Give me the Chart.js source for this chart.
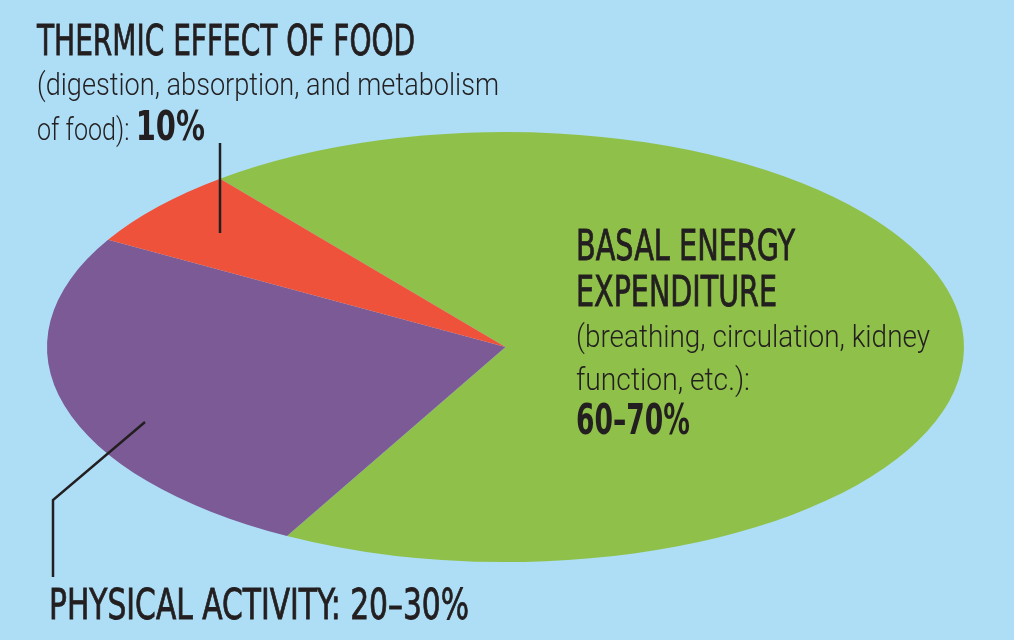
<!DOCTYPE html>
<html>
<head>
<meta charset="utf-8">
<script src="https://cdn.jsdelivr.net/npm/chart.js@4/dist/chart.umd.min.js"></script>
<style>
  html, body { margin: 0; padding: 0; background: #ADDEF6; }
  #wrap { position: relative; width: 1014px; height: 640px; overflow: hidden; background: #ADDEF6; }
  #wrap canvas { position: absolute; left: 0; top: 0; }
  #labels { position: absolute; left: 0; top: 0; width: 1014px; height: 640px; pointer-events: none; }
  #labels text { fill: #231F20; font-family: "Liberation Sans Narrow", "DejaVu Sans Condensed", "Liberation Sans", sans-serif; }
  #labels text.head { font-size: 42px; font-weight: 400; stroke: #231F20; stroke-width: 0.8px; }
  #labels text.body { font-family: Roboto, "DejaVu Sans Condensed", sans-serif; font-size: 32px; font-weight: 300; }
  #labels tspan.bold, #labels text.bold { font-family: "DejaVu Sans Condensed", "Liberation Sans Narrow", sans-serif; font-weight: 700; stroke: none; }
</style>
</head>
<body>
<div id="wrap">
  <canvas id="c" width="1014" height="640"></canvas>
  <svg id="labels" width="1014" height="640" xmlns="http://www.w3.org/2000/svg">
    <text class="head" x="37" y="55" textLength="378" lengthAdjust="spacingAndGlyphs">THERMIC EFFECT OF FOOD</text>
    <text class="body" x="37" y="95" textLength="462" lengthAdjust="spacingAndGlyphs">(digestion, absorption, and metabolism</text>
    <text class="body" x="37" y="140" textLength="168" lengthAdjust="spacingAndGlyphs">of food): <tspan class="bold" style="font-size:41px">10%</tspan></text>

    <text class="head" x="576" y="260" textLength="219" lengthAdjust="spacingAndGlyphs">BASAL ENERGY</text>
    <text class="head" x="576" y="306" textLength="201" lengthAdjust="spacingAndGlyphs">EXPENDITURE</text>
    <text class="body" x="576" y="347" textLength="354" lengthAdjust="spacingAndGlyphs">(breathing, circulation, kidney</text>
    <text class="body" x="576" y="390" textLength="174" lengthAdjust="spacingAndGlyphs">function, etc.):</text>
    <text class="head bold" x="576" y="434" textLength="114" lengthAdjust="spacingAndGlyphs">60–70%</text>

    <text class="head" x="49" y="619" textLength="420" lengthAdjust="spacingAndGlyphs">PHYSICAL ACTIVITY: 20–30%</text>
  </svg>
</div>
<script>
// ---- data ----
const categories = ['Basal energy expenditure', 'Physical activity', 'Thermic effect of food'];
const shareValues = [68.6, 25.4, 6.0];
const sliceColors = ['#8FC14A', '#7B5A96', '#EE523A'];

// ---- layout / style constants ----
const ELLIPSE_RX = 458.5;
const ELLIPSE_RY = 215;
const INK = '#231F20';

const ellipsePlugin = {
  id: 'ellipse',
  beforeDatasetsDraw(chart) {
    const arc = chart.getDatasetMeta(0).data[0];
    const ctx = chart.ctx;
    const r = arc.outerRadius;
    ctx.save();
    ctx.translate(arc.x, arc.y);
    ctx.scale(ELLIPSE_RX / r, ELLIPSE_RY / r);
    ctx.translate(-arc.x, -arc.y);
  },
  afterDatasetsDraw(chart) {
    const ctx = chart.ctx;
    ctx.restore();
    // leader lines
    ctx.save();
    ctx.strokeStyle = INK;
    ctx.lineWidth = 2.5;
    ctx.lineCap = 'butt';
    ctx.lineJoin = 'miter';
    ctx.beginPath();
    ctx.moveTo(220, 143);
    ctx.lineTo(220, 233);
    ctx.stroke();
    ctx.beginPath();
    ctx.moveTo(145, 422);
    ctx.lineTo(53, 500);
    ctx.lineTo(53, 577);
    ctx.stroke();
    ctx.restore();
  }
};

new Chart(document.getElementById('c'), {
  type: 'pie',
  data: {
    labels: categories,
    datasets: [{
      data: shareValues,
      backgroundColor: sliceColors,
      borderWidth: 0,
      hoverOffset: 0,
      offset: 0
    }]
  },
  options: {
    responsive: false,
    animation: false,
    rotation: -38.5,
    events: [],
    layout: { padding: { left: 290.5, right: 293.5, top: 132, bottom: 78 } },
    plugins: {
      legend: { display: false },
      tooltip: { enabled: false },
      title: { display: false }
    }
  },
  plugins: [ellipsePlugin]
});
</script>
</body>
</html>
